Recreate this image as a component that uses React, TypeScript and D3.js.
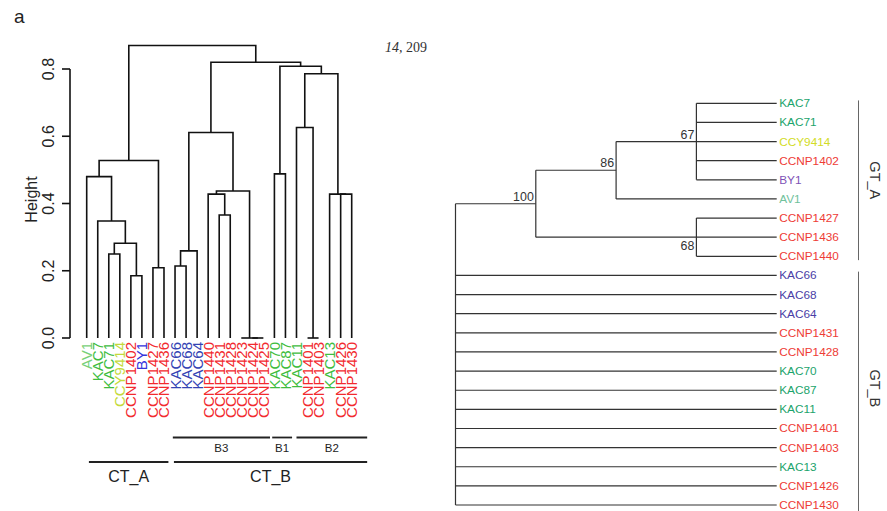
import React from "react";
import * as d3 from "d3";

// ---------- Left dendrogram data ----------
const leftLeaves = [
  "AV1", "KAC7", "KAC71", "CCY9414", "CCNP1402", "BY1", "CCNP1427", "CCNP1436",
  "KAC66", "KAC68", "KAC64", "CCNP1440", "CCNP1431", "CCNP1428", "CCNP1423",
  "CCNP1424", "CCNP1425", "KAC70", "KAC87", "KAC11", "CCNP1401", "CCNP1403",
  "KAC13", "CCNP1426", "CCNP1430",
];
const leftLeafGroup = [
  "av", "kg", "kg", "cy", "r", "by", "r", "r",
  "kb", "kb", "kb", "r", "r", "r", "r",
  "r", "r", "kg", "kg", "kg", "r", "r",
  "kg", "r", "r",
];
// hclust-style merges: negative = leaf (-(index+1)), positive = earlier merge row (1-based)
const leftMerges: [number, number, number][] = [
  [-16, -17, 0],
  [-15, 1, 0],
  [-21, -22, 0],
  [-5, -6, 0.185],
  [-7, -8, 0.209],
  [-9, -10, 0.214],
  [-3, -4, 0.25],
  [6, -11, 0.259],
  [7, 4, 0.282],
  [-2, 9, 0.348],
  [-13, -14, 0.366],
  [-24, -25, 0.428],
  [-23, 12, 0.428],
  [-12, 11, 0.428],
  [14, 2, 0.437],
  [-1, 10, 0.48],
  [-18, -19, 0.488],
  [16, 5, 0.528],
  [8, 15, 0.611],
  [-20, 3, 0.626],
  [20, 13, 0.786],
  [17, 21, 0.808],
  [19, 22, 0.82],
  [18, 23, 0.87],
];
const yTicks = [0, 0.2, 0.4, 0.6, 0.8];
const subGroups = [
  { name: "B3", from: 7.8, to: 16.6 },
  { name: "B1", from: 16.8, to: 18.6 },
  { name: "B2", from: 19.0, to: 25.4 },
];
const ctGroups = [
  { name: "CT_A", from: 0.2, to: 7.4 },
  { name: "CT_B", from: 7.9, to: 25.4 },
];

// ---------- Right tree data ----------
type TNode = { name: string; support?: string; below?: boolean; children?: TNode[] };
const gtA67 = ["KAC7", "KAC71", "CCY9414", "CCNP1402", "BY1"];
const gtA68 = ["CCNP1427", "CCNP1436", "CCNP1440"];
const gtBLeaves = [
  "KAC66", "KAC68", "KAC64", "CCNP1431", "CCNP1428", "KAC70", "KAC87", "KAC11",
  "CCNP1401", "CCNP1403", "KAC13", "CCNP1426", "CCNP1430",
];
const rightTree: TNode = {
  name: "root",
  children: [
    {
      name: "n100", support: "100",
      children: [
        {
          name: "n86", support: "86",
          children: [
            { name: "n67", support: "67", children: gtA67.map((n) => ({ name: n })) },
            { name: "AV1" },
          ],
        },
        { name: "n68", support: "68", below: true, children: gtA68.map((n) => ({ name: n })) },
      ],
    },
    ...gtBLeaves.map((n) => ({ name: n })),
  ],
};
const gtGroups = [
  { name: "GT_A", from: -0.15, to: 8.2 },
  { name: "GT_B", from: 8.8, to: 21.6 },
];

const leftColors: Record<string, string> = {
  av: "#78d078", kg: "#3fbd3f", cy: "#c4da3a", r: "#f22a2e", by: "#3535dc", kb: "#3444b4",
};
function rightColor(name: string): string {
  if (name === "AV1") return "#70c29c";
  if (name === "BY1") return "#7e52b6";
  if (name === "CCY9414") return "#d2dc26";
  if (name.startsWith("CCNP")) return "#ee3b36";
  if (["KAC66", "KAC68", "KAC64"].includes(name)) return "#4a40a6";
  return "#1ba46c";
}

const SANS = "'Liberation Sans', Arial, sans-serif";

export default function App() {
  // ---- left scales ----
  const xL = d3.scaleLinear().domain([0, leftLeaves.length - 1]).range([86.7, 351.7]);
  const yL = d3.scaleLinear().domain([0, 0.8]).range([338, 69]);

  const nodeX: number[] = [];
  const pos = (ref: number) => (ref < 0 ? { x: xL(-ref - 1), h: 0 } : { x: nodeX[ref - 1], h: leftMerges[ref - 1][2] });
  const dendroPaths: string[] = [];
  leftMerges.forEach(([a, b, h], i) => {
    const pa = pos(a);
    const pb = pos(b);
    nodeX[i] = (pa.x + pb.x) / 2;
    const p = d3.path();
    p.moveTo(pa.x, yL(pa.h));
    p.lineTo(pa.x, yL(h));
    p.lineTo(pb.x, yL(h));
    p.lineTo(pb.x, yL(pb.h));
    dendroPaths.push(p.toString());
  });

  // ---- right tree ----
  const root = d3.hierarchy<TNode>(rightTree);
  const leaves = root.leaves();
  const yR = d3.scaleLinear().domain([0, leaves.length - 1]).range([103.3, 505]);
  const xR = d3.scaleLinear().domain([root.height, 0]).range([455.5, 776.7]);
  const vy = new Map<any, number>();
  leaves.forEach((l, i) => vy.set(l, yR(i)));
  root.eachAfter((n) => {
    if (n.children) vy.set(n, d3.mean(n.children, (c) => vy.get(c)!)!);
  });
  const treeLines: { x1: number; y1: number; x2: number; y2: number }[] = [];
  root.each((n) => {
    if (n.parent) treeLines.push({ x1: xR(n.parent.height), y1: vy.get(n)!, x2: xR(n.height), y2: vy.get(n)! });
    if (n.children) {
      const ys = n.children.map((c) => vy.get(c)!);
      treeLines.push({ x1: xR(n.height), y1: d3.min(ys)!, x2: xR(n.height), y2: d3.max(ys)! });
    }
  });
  const supportNodes = root.descendants().filter((n) => n.data.support);

  return (
    <svg width={887} height={511} style={{ position: "absolute", left: 0, top: 0, background: "#fff" }}>
      <rect width={887} height={511} fill="#fff" />
      <text x={14} y={23} fontFamily={SANS} fontSize={19} fill="#222">a</text>
      <text x={385} y={52} fontFamily="'Liberation Serif', serif" fontSize={14} fill="#333">
        <tspan fontStyle="italic">14,</tspan> 209
      </text>

      {/* y axis */}
      <g fontFamily={SANS} fill="#222">
        <line x1={70} x2={70} y1={yL(0)} y2={yL(0.8)} stroke="#111" strokeWidth={1.6} />
        {yTicks.map((t) => (
          <g key={t}>
            <line x1={62} x2={70} y1={yL(t)} y2={yL(t)} stroke="#111" strokeWidth={1.6} />
            <text transform={`translate(48,${yL(t)}) rotate(-90)`} textAnchor="middle" dominantBaseline="central" fontSize={16}>
              {t.toFixed(1)}
            </text>
          </g>
        ))}
        <text transform={`translate(31,${(yL(0) + yL(0.8)) / 2 - 4}) rotate(-90)`} textAnchor="middle" dominantBaseline="central" fontSize={16}>
          Height
        </text>
      </g>

      {/* dendrogram */}
      <g fill="none" stroke="#111" strokeWidth={1.6}>
        {dendroPaths.map((d, i) => <path key={i} d={d} />)}
      </g>
      <g fontFamily={SANS} fontSize={15}>
        {leftLeaves.map((l, i) => (
          <text key={l} transform={`translate(${xL(i)},342) rotate(-90)`} textAnchor="end" dominantBaseline="central" fill={leftColors[leftLeafGroup[i]]}>
            {l}
          </text>
        ))}
      </g>
      <g fontFamily={SANS} fill="#222">
        {subGroups.map((g) => (
          <g key={g.name}>
            <line x1={xL(g.from)} x2={xL(g.to)} y1={437.5} y2={437.5} stroke="#222" strokeWidth={1.8} />
            <text x={(xL(g.from) + xL(g.to)) / 2} y={452} textAnchor="middle" fontSize={11.5}>{g.name}</text>
          </g>
        ))}
        {ctGroups.map((g) => (
          <g key={g.name}>
            <line x1={xL(g.from)} x2={xL(g.to)} y1={462} y2={462} stroke="#222" strokeWidth={2} />
            <text x={(xL(g.from) + xL(g.to)) / 2} y={482} textAnchor="middle" fontSize={16}>{g.name}</text>
          </g>
        ))}
      </g>

      {/* right tree */}
      <g stroke="#333" strokeWidth={1.2}>
        {treeLines.map((l, i) => <line key={i} {...l} />)}
      </g>
      <g fontFamily={SANS} fontSize={11.8}>
        {leaves.map((l) => (
          <text key={l.data.name} x={xR(0) + 2.5} y={vy.get(l)!} dominantBaseline="central" fill={rightColor(l.data.name)}>
            {l.data.name}
          </text>
        ))}
      </g>
      <g fontFamily={SANS} fontSize={12.4} fill="#333">
        {supportNodes.map((n) => (
          <text key={n.data.name} x={xR(n.height) - 2} y={vy.get(n)! + (n.data.below ? 13 : -3)} textAnchor="end">
            {n.data.support}
          </text>
        ))}
      </g>
      <g fontFamily={SANS} fill="#333">
        {gtGroups.map((g) => (
          <g key={g.name}>
            <line x1={858.5} x2={858.5} y1={yR(g.from)} y2={yR(g.to)} stroke="#666" strokeWidth={1} />
            <text transform={`translate(875,${(yR(g.from) + Math.min(yR(g.to), 505)) / 2}) rotate(90)`} textAnchor="middle" dominantBaseline="central" fontSize={14.5}>
              {g.name}
            </text>
          </g>
        ))}
      </g>
    </svg>
  );
}
